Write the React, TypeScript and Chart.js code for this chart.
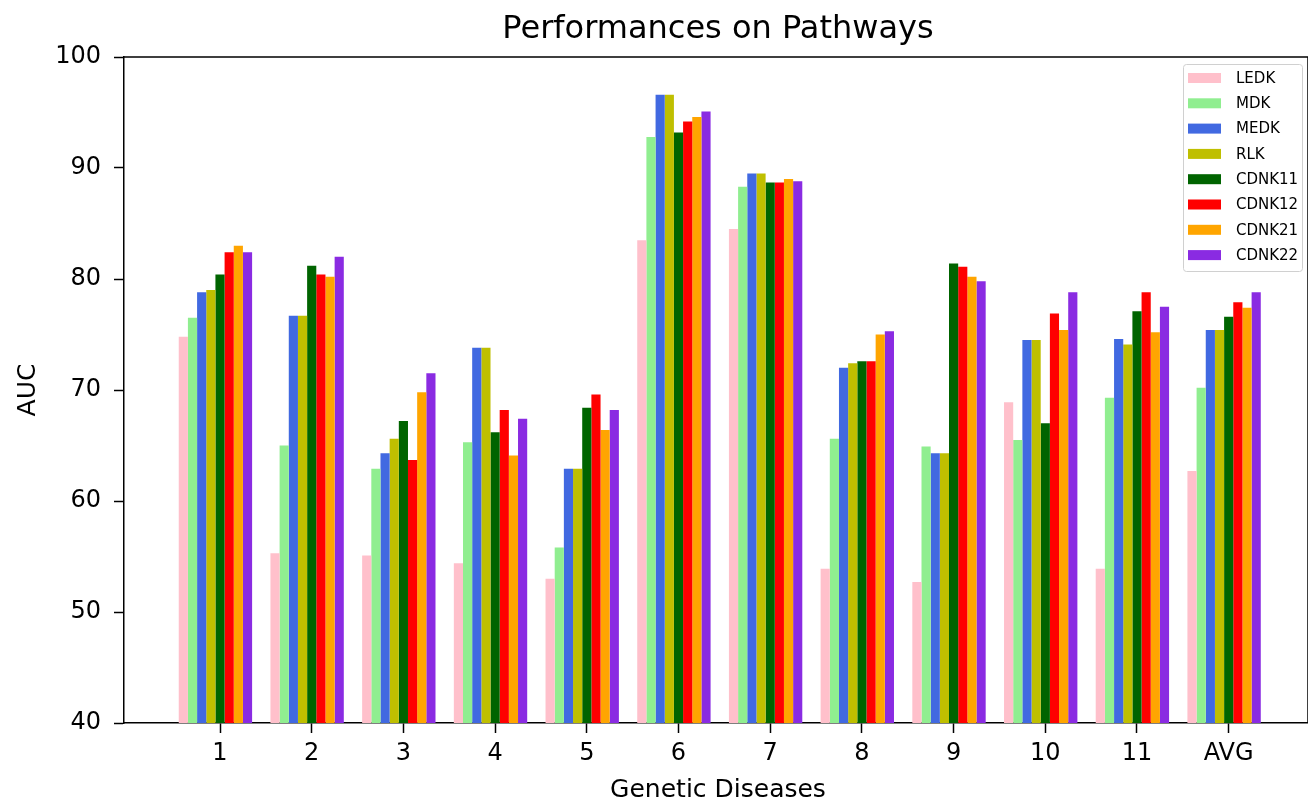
import React, { useEffect, useRef } from "react";
import { Chart, registerables } from "chart.js";

Chart.register(...registerables);

const CATEGORIES = ["1", "2", "3", "4", "5", "6", "7", "8", "9", "10", "11", "AVG"];

const SERIES_NAMES = ["LEDK", "MDK", "MEDK", "RLK", "CDNK11", "CDNK12", "CDNK21", "CDNK22"];
const SERIES_COLORS = ["#FFC0CB", "#90EE90", "#4169E1", "#BFBF00", "#006400", "#FF0000", "#FFA500", "#8A2BE2"];

const LEDK = [74.8, 55.3, 55.1, 54.4, 53.0, 83.5, 84.5, 53.9, 52.7, 68.9, 53.9, 62.7];
const MDK = [76.5, 65.0, 62.9, 65.3, 55.8, 92.8, 88.3, 65.6, 64.9, 65.5, 69.3, 70.2];
const MEDK = [78.8, 76.7, 64.3, 73.8, 62.9, 96.6, 89.5, 72.0, 64.3, 74.5, 74.6, 75.4];
const RLK = [79.0, 76.7, 65.6, 73.8, 62.9, 96.6, 89.5, 72.4, 64.3, 74.5, 74.1, 75.4];
const CDNK11 = [80.4, 81.2, 67.2, 66.2, 68.4, 93.2, 88.7, 72.6, 81.4, 67.0, 77.1, 76.6];
const CDNK12 = [82.4, 80.4, 63.7, 68.2, 69.6, 94.2, 88.7, 72.6, 81.1, 76.9, 78.8, 77.9];
const CDNK21 = [83.0, 80.2, 69.8, 64.1, 66.4, 94.6, 89.0, 75.0, 80.2, 75.4, 75.2, 77.4];
const CDNK22 = [82.4, 82.0, 71.5, 67.4, 68.2, 95.1, 88.8, 75.3, 79.8, 78.8, 77.5, 78.8];

const SERIES = [LEDK, MDK, MEDK, RLK, CDNK11, CDNK12, CDNK21, CDNK22];

const Y_TICKS = [40, 50, 60, 70, 80, 90, 100];

const TITLE = "Performances on Pathways";
const X_TITLE = "Genetic Diseases";
const Y_TITLE = "AUC";

const FONT = "'DejaVu Sans', sans-serif";

// Bars of a group are shifted half a bar to the left of the tick, as each
// tick sits under the middle of the fifth bar.
const GROUP_SHIFT = -0.05;

const framePlugin = {
  id: "frameAndText",
  afterDraw(chart: any) {
    const { ctx, chartArea } = chart;
    const { left, right, top, bottom } = chartArea;
    ctx.save();
    // axes frame
    ctx.strokeStyle = "#000";
    ctx.lineWidth = 1.5;
    ctx.beginPath();
    ctx.moveTo(left, top);
    ctx.lineTo(right, top);
    ctx.lineTo(right, bottom);
    ctx.stroke();

    // titles
    ctx.fillStyle = "#000";
    ctx.textAlign = "center";
    ctx.textBaseline = "middle";
    const cx = (left + right) / 2;
    ctx.font = `32px ${FONT}`;
    ctx.fillText(TITLE, cx + 2, 30);
    ctx.font = `25px ${FONT}`;
    ctx.fillText(X_TITLE, cx + 2, 790);
    ctx.save();
    ctx.translate(28, (top + bottom) / 2);
    ctx.rotate(-Math.PI / 2);
    ctx.fillText(Y_TITLE, 0, 0);
    ctx.restore();

    // legend
    const bx = 1183;
    const by = 64;
    const bw = 119;
    const bh = 207;
    ctx.fillStyle = "rgba(255,255,255,0.85)";
    ctx.strokeStyle = "#d0d0d0";
    ctx.lineWidth = 1;
    ctx.beginPath();
    ctx.roundRect(bx + 0.5, by + 0.5, bw, bh, 3);
    ctx.fill();
    ctx.stroke();
    ctx.font = `15px ${FONT}`;
    ctx.textAlign = "left";
    ctx.textBaseline = "middle";
    chart.data.datasets.forEach((ds: any, i: number) => {
      const y = 78 + i * 25.3;
      ctx.fillStyle = ds.backgroundColor;
      ctx.fillRect(1188, y - 5, 33, 10);
      ctx.fillStyle = "#000";
      ctx.fillText(ds.label, 1236, y + 1);
    });
    ctx.restore();
  },
};

export default function App() {
  const canvasRef = useRef<HTMLCanvasElement | null>(null);

  useEffect(() => {
    document.body.style.margin = "0";
    const canvas = canvasRef.current;
    if (!canvas) return;

    const datasets = SERIES.map((values, s) => ({
      label: SERIES_NAMES[s],
      data: values.map((v, i) => ({ x: i + 1 + GROUP_SHIFT, y: v })),
      backgroundColor: SERIES_COLORS[s],
      borderWidth: 0,
      categoryPercentage: 0.8,
      barPercentage: 1.0,
    }));

    const chart = new Chart(canvas, {
      type: "bar",
      data: { datasets },
      options: {
        responsive: false,
        animation: false,
        devicePixelRatio: 1,
        layout: { padding: { top: 57, right: 0, left: 0, bottom: 0 } },
        plugins: {
          legend: { display: false },
          title: { display: false },
          tooltip: { enabled: false },
        },
        scales: {
          x: {
            type: "linear",
            min: -0.047,
            max: 12.865,
            offset: false,
            afterBuildTicks: (scale: any) => {
              scale.ticks = CATEGORIES.map((_, i) => ({ value: i + 1 }));
            },
            afterFit: (scale: any) => {
              scale.height = 81;
            },
            ticks: {
              autoSkip: false,
              maxRotation: 0,
              padding: 6,
              color: "#000",
              font: { family: FONT, size: 24 },
              callback: (v: any) => CATEGORIES[Math.round(v) - 1] ?? "",
            },
            grid: {
              offset: false,
              drawOnChartArea: false,
              drawTicks: true,
              tickLength: 10,
              color: "#000",
              tickWidth: 1.5,
            },
            border: { display: true, color: "#000", width: 1.5 },
          },
          y: {
            type: "linear",
            min: 40,
            max: 100,
            afterBuildTicks: (scale: any) => {
              scale.ticks = Y_TICKS.map((v) => ({ value: v }));
            },
            afterFit: (scale: any) => {
              scale.width = 124;
            },
            ticks: {
              padding: 13,
              color: "#000",
              font: { family: FONT, size: 24 },
            },
            grid: {
              drawOnChartArea: false,
              drawTicks: true,
              tickLength: 10,
              color: "#000",
              tickWidth: 1.5,
            },
            border: { display: true, color: "#000", width: 1.5 },
          },
        },
      },
      plugins: [framePlugin],
    } as any);

    return () => {
      chart.destroy();
    };
  }, []);

  return (
    <canvas
      ref={canvasRef}
      width={1308}
      height={804}
      style={{ display: "block", width: 1308, height: 804 }}
    />
  );
}
